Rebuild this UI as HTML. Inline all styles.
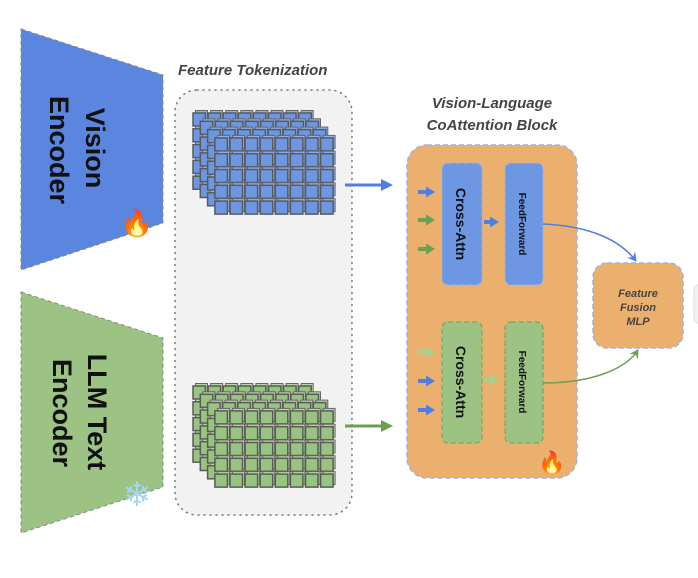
<!DOCTYPE html>
<html><head><meta charset="utf-8"><style>
html,body{margin:0;padding:0;background:#fff;}
svg{display:block;font-family:"Liberation Sans",sans-serif;}
</style></head><body>
<svg id="s" width="698" height="578" viewBox="0 0 698 578" xmlns="http://www.w3.org/2000/svg">
<defs>
<marker id="ab" markerWidth="12" markerHeight="12" refX="9" refY="6" orient="auto" markerUnits="userSpaceOnUse"><path d="M0,0 L12,6 L0,12 Z" fill="#4f7fe0"/></marker>
<marker id="ag" markerWidth="12" markerHeight="12" refX="9" refY="6" orient="auto" markerUnits="userSpaceOnUse"><path d="M0,0 L12,6 L0,12 Z" fill="#6aa050"/></marker>
<marker id="sb" markerWidth="9" markerHeight="11" refX="2" refY="5.5" orient="auto" markerUnits="userSpaceOnUse"><path d="M0,0 L9,5.5 L0,11 Z" fill="#4f7fe0"/></marker>
<marker id="sg" markerWidth="9" markerHeight="11" refX="2" refY="5.5" orient="auto" markerUnits="userSpaceOnUse"><path d="M0,0 L9,5.5 L0,11 Z" fill="#6aa050"/></marker>
<marker id="sl" markerWidth="9" markerHeight="11" refX="2" refY="5.5" orient="auto" markerUnits="userSpaceOnUse"><path d="M0,0 L9,5.5 L0,11 Z" fill="#a9d08e"/></marker>
<marker id="cb" markerWidth="10" markerHeight="10" refX="8" refY="5" orient="auto" markerUnits="userSpaceOnUse"><path d="M0,0 L9,5 L0,10 L3,5 Z" fill="#4f7fe0"/></marker>
<marker id="cg" markerWidth="10" markerHeight="10" refX="8" refY="5" orient="auto" markerUnits="userSpaceOnUse"><path d="M0,0 L9,5 L0,10 L3,5 Z" fill="#6aa050"/></marker>
</defs>
<polygon points="21,29 163,75 163,223 21,270" fill="#5a86e0" stroke="#888" stroke-dasharray="4,3" stroke-width="1"/>
<polygon points="21,292 163,338 163,487 21,533" fill="#9dc384" stroke="#888" stroke-dasharray="4,3" stroke-width="1"/>
<text transform="translate(86,148) rotate(90)" text-anchor="middle" font-size="27" font-weight="bold" fill="#111">Vision</text>
<text transform="translate(50,150) rotate(90)" text-anchor="middle" font-size="27" font-weight="bold" fill="#111">Encoder</text>
<text transform="translate(88,412) rotate(90)" text-anchor="middle" font-size="27" font-weight="bold" fill="#111">LLM Text</text>
<text transform="translate(53,413) rotate(90)" text-anchor="middle" font-size="27" font-weight="bold" fill="#111">Encoder</text>
<text x="137" y="232" text-anchor="middle" font-size="26">🔥</text>
<text x="137" y="506" text-anchor="middle" font-size="34" fill="#a8d4f5">❄</text>
<text x="178" y="75" font-size="15" font-weight="bold" font-style="italic" fill="#444">Feature Tokenization</text>
<rect x="175" y="90" width="177" height="425" rx="22" fill="#f2f2f2" stroke="#777" stroke-width="1.5" stroke-dasharray="1,5" stroke-linecap="round"/>
<g id="cubes"></g>
<line x1="345" y1="185" x2="390" y2="185" stroke="#4f7fe0" stroke-width="3" marker-end="url(#ab)"/>
<line x1="345" y1="426" x2="390" y2="426" stroke="#6aa050" stroke-width="3" marker-end="url(#ag)"/>
<text x="492" y="108" text-anchor="middle" font-size="15" font-weight="bold" font-style="italic" fill="#444">Vision-Language</text>
<text x="492" y="130" text-anchor="middle" font-size="15" font-weight="bold" font-style="italic" fill="#444">CoAttention Block</text>
<rect x="407" y="145" width="170" height="333" rx="20" fill="#ecb06e" stroke="#9ab4e6" stroke-width="1.5" stroke-dasharray="5,3"/>
<rect x="442" y="163" width="40" height="122" rx="6" fill="#6d97e2" stroke="#9ab4e6" stroke-dasharray="5,3"/>
<rect x="505" y="163" width="38" height="122" rx="6" fill="#6d97e2" stroke="#9ab4e6" stroke-dasharray="5,3"/>
<rect x="442" y="322" width="40" height="121" rx="6" fill="#9dc384" stroke="#6aa050" stroke-dasharray="5,3"/>
<rect x="505" y="322" width="38" height="121" rx="6" fill="#9dc384" stroke="#6aa050" stroke-dasharray="5,3"/>
<text transform="translate(456,224) rotate(90)" text-anchor="middle" font-size="14" font-weight="bold" fill="#111">Cross-Attn</text>
<text transform="translate(519,224) rotate(90)" text-anchor="middle" font-size="10" font-weight="bold" fill="#111">FeedForward</text>
<text transform="translate(456,382) rotate(90)" text-anchor="middle" font-size="14" font-weight="bold" fill="#111">Cross-Attn</text>
<text transform="translate(519,382) rotate(90)" text-anchor="middle" font-size="10" font-weight="bold" fill="#111">FeedForward</text>
<g stroke-width="4">
<line x1="418" y1="192" x2="428" y2="192" stroke="#4f7fe0" marker-end="url(#sb)"/>
<line x1="418" y1="220" x2="428" y2="220" stroke="#6aa050" marker-end="url(#sg)"/>
<line x1="418" y1="249" x2="428" y2="249" stroke="#6aa050" marker-end="url(#sg)"/>
<line x1="484" y1="222" x2="492" y2="222" stroke="#4f7fe0" marker-end="url(#sb)"/>
<line x1="418" y1="352" x2="428" y2="352" stroke="#a9d08e" marker-end="url(#sl)"/>
<line x1="418" y1="381" x2="428" y2="381" stroke="#4f7fe0" marker-end="url(#sb)"/>
<line x1="418" y1="410" x2="428" y2="410" stroke="#4f7fe0" marker-end="url(#sb)"/>
<line x1="484" y1="380" x2="492" y2="380" stroke="#a9d08e" marker-end="url(#sl)"/>
</g>
<text x="552" y="470" text-anchor="middle" font-size="22">🔥</text>
<rect x="593" y="263" width="90" height="85" rx="14" fill="#ecb06e" stroke="#9ab4e6" stroke-width="1.5" stroke-dasharray="5,3"/>
<text x="638" y="297" text-anchor="middle" font-size="11" font-weight="bold" font-style="italic" fill="#444">Feature</text>
<text x="638" y="311" text-anchor="middle" font-size="11" font-weight="bold" font-style="italic" fill="#444">Fusion</text>
<text x="638" y="325" text-anchor="middle" font-size="11" font-weight="bold" font-style="italic" fill="#444">MLP</text>
<path d="M543,224 C590,226 620,240 636,261" fill="none" stroke="#4f7fe0" stroke-width="1.5" marker-end="url(#cb)"/>
<path d="M543,383 C590,383 625,370 638,350" fill="none" stroke="#6aa050" stroke-width="1.5" marker-end="url(#cg)"/>
<rect x="694" y="285" width="10" height="38" rx="4" fill="#f2f2f2" stroke="#ddd"/>
</svg>
<script>
var g=document.getElementById('cubes'),h='';
function block(x0,y0,fill,lite){
 for(var k=0;k<4;k++){
  var ox=x0+k*7.3, oy=y0+k*8.3;
  for(var r=0;r<5;r++)for(var c=0;c<8;c++){
   var x=ox+c*15.1,y=oy+r*15.8;
   h+='<rect x="'+(x+2.5)+'" y="'+(y-2.5)+'" width="12" height="13" fill="'+lite+'" stroke="#666" stroke-width="1"/>';
   h+='<rect x="'+x+'" y="'+y+'" width="12.5" height="13" fill="'+fill+'" stroke="#5a5a5a" stroke-width="1.5"/>';
  }
 }
}
block(193,113,'#6d97e2','#8fb0ea');
block(193,386,'#98c47f','#b5d6a0');
g.innerHTML=h;
</script>
</body></html>
